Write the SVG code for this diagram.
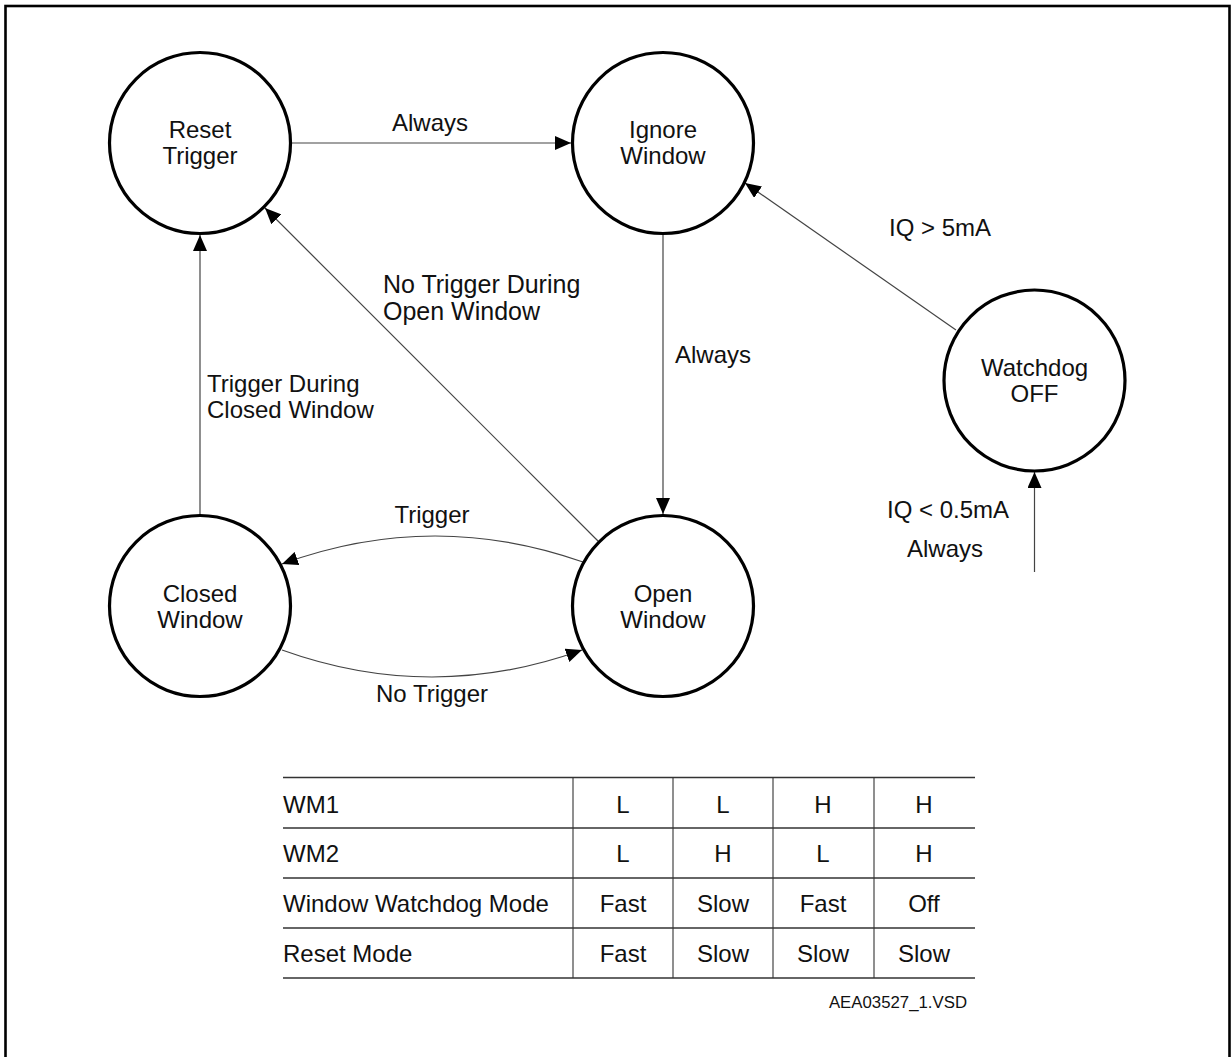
<svg xmlns="http://www.w3.org/2000/svg" width="1231" height="1057" viewBox="0 0 1231 1057">
<style>
text{font-family:"Liberation Sans",Arial,sans-serif;font-size:24px;fill:#111}
.node{fill:#fff;stroke:#000;stroke-width:3.2}
.c{text-anchor:middle}
.edge{fill:none;stroke:#444;stroke-width:1.2}
.tl{stroke:#333;stroke-width:1.4}
.tv{stroke:#333;stroke-width:1.1}
</style>
<defs>
<marker id="ah" markerUnits="userSpaceOnUse" markerWidth="16" markerHeight="14" refX="16" refY="7" orient="auto">
<path d="M0,0 L16,7 L0,14 z" fill="#000"/>
</marker>
</defs>
<rect x="5.5" y="6" width="1224" height="1070" fill="#fff" stroke="#000" stroke-width="2.6"/>
<g id="connectors">
<line class="edge" x1="292" y1="143" x2="571" y2="143" marker-end="url(#ah)"/>
<line class="edge" x1="663" y1="235" x2="663" y2="514" marker-end="url(#ah)"/>
<line class="edge" x1="200" y1="514" x2="200" y2="235" marker-end="url(#ah)"/>
<line class="edge" x1="598" y1="541" x2="265" y2="208" marker-end="url(#ah)"/>
<line class="edge" x1="956" y1="330" x2="745" y2="183" marker-end="url(#ah)"/>
<line class="edge" x1="1034.5" y1="572" x2="1034.5" y2="472" marker-end="url(#ah)"/>
<path class="edge" d="M583,562 Q432,509 282,564" marker-end="url(#ah)"/>
<path class="edge" d="M282,650 Q432,704 582,650" marker-end="url(#ah)"/>
<text class="c" x="430" y="131">Always</text>
<text x="383" y="293" style="font-size:25px">No Trigger During</text>
<text x="383" y="320" style="font-size:25px">Open Window</text>
<text x="675" y="363">Always</text>
<text class="c" x="940" y="236">IQ &gt; 5mA</text>
<text x="207" y="392">Trigger During</text>
<text x="207" y="418">Closed Window</text>
<text class="c" x="432" y="523">Trigger</text>
<text class="c" x="432" y="702">No Trigger</text>
<text x="887" y="518">IQ &lt; 0.5mA</text>
<text x="907" y="557">Always</text>
</g>
<g id="reset-trigger">
<circle class="node" cx="200" cy="143" r="90.5"/>
<text class="c" x="200" y="138">Reset</text>
<text class="c" x="200" y="164">Trigger</text>
</g>
<g id="ignore-window">
<circle class="node" cx="663" cy="143" r="90.5"/>
<text class="c" x="663" y="138">Ignore</text>
<text class="c" x="663" y="164">Window</text>
</g>
<g id="watchdog-off">
<circle class="node" cx="1034.5" cy="380.5" r="90.5"/>
<text class="c" x="1034.5" y="376">Watchdog</text>
<text class="c" x="1034.5" y="402">OFF</text>
</g>
<g id="closed-window">
<circle class="node" cx="200" cy="606" r="90.5"/>
<text class="c" x="200" y="602">Closed</text>
<text class="c" x="200" y="628">Window</text>
</g>
<g id="open-window">
<circle class="node" cx="663" cy="606" r="90.5"/>
<text class="c" x="663" y="602">Open</text>
<text class="c" x="663" y="628">Window</text>
</g>
<g id="table">
<line class="tl" x1="283" y1="777.5" x2="975" y2="777.5"/>
<line class="tl" x1="283" y1="828" x2="975" y2="828"/>
<line class="tl" x1="283" y1="878" x2="975" y2="878"/>
<line class="tl" x1="283" y1="928" x2="975" y2="928"/>
<line class="tl" x1="283" y1="978" x2="975" y2="978"/>
<line class="tv" x1="573" y1="777" x2="573" y2="978"/>
<line class="tv" x1="673" y1="777" x2="673" y2="978"/>
<line class="tv" x1="773" y1="777" x2="773" y2="978"/>
<line class="tv" x1="874" y1="777" x2="874" y2="978"/>
<text x="283" y="813">WM1</text>
<text class="c" x="623" y="813">L</text>
<text class="c" x="723" y="813">L</text>
<text class="c" x="823" y="813">H</text>
<text class="c" x="924" y="813">H</text>
<text x="283" y="862">WM2</text>
<text class="c" x="623" y="862">L</text>
<text class="c" x="723" y="862">H</text>
<text class="c" x="823" y="862">L</text>
<text class="c" x="924" y="862">H</text>
<text x="283" y="912">Window Watchdog Mode</text>
<text class="c" x="623" y="912">Fast</text>
<text class="c" x="723" y="912">Slow</text>
<text class="c" x="823" y="912">Fast</text>
<text class="c" x="924" y="912">Off</text>
<text x="283" y="962">Reset Mode</text>
<text class="c" x="623" y="962">Fast</text>
<text class="c" x="723" y="962">Slow</text>
<text class="c" x="823" y="962">Slow</text>
<text class="c" x="924" y="962">Slow</text>
<text x="967" y="1008" style="font-size:16.8px;text-anchor:end">AEA03527_1.VSD</text>
</g>
</svg>
